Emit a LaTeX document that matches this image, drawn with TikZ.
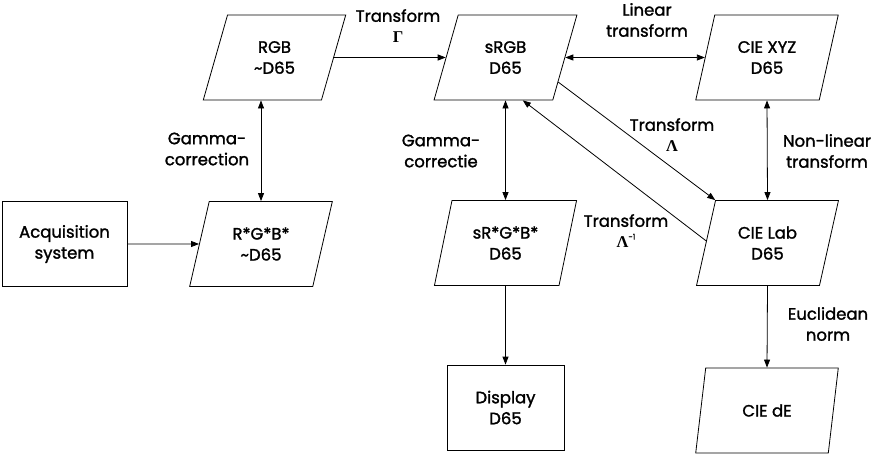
\documentclass[tikz,border=0pt]{standalone}
\usepackage{fontspec}
\setmainfont{Poppins}[FakeBold=1.5]
\newfontfamily\grk{Liberation Serif}
\usetikzlibrary{shapes.geometric,arrows.meta}
\begin{document}
\begin{tikzpicture}[x=1pt,y=-1pt,
  every node/.style={font=\fontsize{16.5}{21}\selectfont, align=center},
  para/.style={draw, line width=0.8pt, trapezium, trapezium left angle=72,
    trapezium right angle=108, trapezium stretches=true,
    minimum width=143pt, minimum height=85pt, inner sep=0pt},
  box/.style={draw, line width=0.8pt, rectangle, minimum width=#1,
    minimum height=85pt, inner sep=0pt},
  lbl/.style={inner sep=0pt},
  conn/.style={line width=0.8pt, -{Triangle[length=8pt,width=6pt]}},
  biconn/.style={line width=0.8pt, {Triangle[length=8pt,width=6pt]}-{Triangle[length=8pt,width=6pt]}}
]
\useasboundingbox (0,0) rectangle (881,457);

% nodes
\node[para] (rgb)   at (274.5,57.5) {RGB\\\textasciitilde D65};
\node[para] (srgb)  at (505.5,57.5) {sRGB\\D65};
\node[para] (xyz)   at (767,57.5)   {CIE XYZ\\D65};
\node[box=125pt] (acq) at (64.5,244) {Acquisition\\system};
\node[para] (rgbs)  at (261,244)    {R*G*B*\\\textasciitilde D65};
\node[para] (srgbs) at (505.5,243)  {sR*G*B*\\D65};
\node[para] (lab)   at (767.5,243)  {CIE Lab\\D65};
\node[box=117pt] (disp) at (505.5,407.5) {Display\\D65};
\node[para] (de)    at (767,410.5)  {CIE dE};

% labels
\node[lbl] (lgam)  at (398,26)  {Transform\\{\grk\bfseries Γ}};
\node[lbl] (llin)  at (647,20)  {Linear\\transform};
\node[lbl] (lgc)   at (207,149) {Gamma-\\correction};
\node[lbl] (lgct)  at (441,151) {Gamma-\\correctie};
\node[lbl] (llam)  at (672,135) {Transform\\{\grk\bfseries Λ}};
\node[lbl] (lnl)   at (827,151) {Non-linear\\transform};
\node[lbl] (llami) at (626,231) {Transform\\{\grk\bfseries Λ}\raisebox{0.9ex}{\fontsize{8}{8}\selectfont -1}};
\node[lbl] (leuc)  at (828,324) {Euclidean\\norm};

% connectors
\draw[conn]   (rgb.east) -- (srgb.west);
\draw[biconn] (srgb.east) -- (xyz.west);
\draw[biconn] (rgb.south -| rgbs.north) -- (rgbs.north);
\draw[conn]   (acq.east) -- (rgbs.west);
\draw[biconn] (srgb.south) -- (srgbs.north);
\draw[biconn] (xyz.south) -- (lab.north);
\draw[conn]   (srgb.-25) -- (lab.top left corner);
\draw[conn]   (lab.178) -- (srgb.-68);
\draw[conn]   (srgbs.south) -- (disp.north);
\draw[conn]   (lab.south) -- (de.north);
\end{tikzpicture}
\end{document}
